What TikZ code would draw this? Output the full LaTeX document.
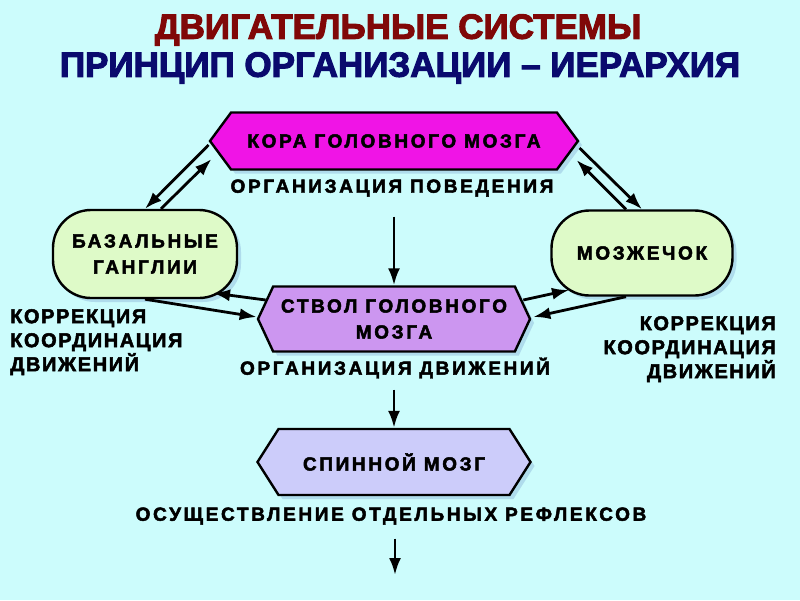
\documentclass[tikz,border=0pt]{standalone}
\usepackage{fontspec}
\setmainfont{Liberation Sans}
\newfontfamily\titlefont{Liberation Sans Bold}[FakeBold=3]
\newfontfamily\boxfont{Liberation Sans Bold}[FakeBold=2.5, LetterSpace=14]
\newfontfamily\sidefont{Liberation Sans Bold}[FakeBold=2.5, LetterSpace=8]
\usetikzlibrary{arrows.meta,positioning,shapes.symbols,shadows}

\definecolor{bgcyan}{RGB}{204,252,252}
\definecolor{titlered}{RGB}{128,8,8}
\definecolor{titleblue}{RGB}{10,10,110}
\definecolor{cortexfill}{RGB}{240,20,230}
\definecolor{greenfill}{RGB}{222,250,200}
\definecolor{stemfill}{RGB}{204,150,240}
\definecolor{spinefill}{RGB}{204,204,250}
\definecolor{shadowblue}{RGB}{175,220,236}

\begin{document}
\begin{tikzpicture}[
	x=1pt, y=-1pt,
	softshadow/.style={drop shadow={fill=shadowblue, shadow xshift=4pt, shadow yshift=-4pt, opacity=1}},
	hexbox/.style={signal, signal to=west and east, draw, line width=2.4pt, align=center, inner sep=0pt, softshadow, font=\boxfont\fontsize{19}{26}\selectfont},
	pill/.style={rectangle, rounded corners=38pt, draw, line width=2.4pt, fill=greenfill, align=center, inner sep=0pt, softshadow, font=\boxfont\fontsize{19}{26}\selectfont},
	caption/.style={inner sep=0pt, font=\boxfont\fontsize{19}{20}\selectfont},
	sidetext/.style={inner sep=0pt, font=\sidefont\fontsize{20}{24}\selectfont},
	line/.style={-{Latex[length=17pt,width=12pt]}, line width=2.8pt}
]
\fill[bgcyan] (0,0) rectangle (800,600);
\useasboundingbox (0,0) rectangle (800,600);

% title
\node[font=\titlefont\fontsize{35}{40}\selectfont, text=titlered] (title1) at (398,30) {ДВИГАТЕЛЬНЫЕ СИСТЕМЫ};
\node[font=\titlefont\fontsize{35}{40}\selectfont, text=titleblue] (title2) at (400,68) {ПРИНЦИП ОРГАНИЗАЦИИ – ИЕРАРХИЯ};

% levels
\node[hexbox, fill=cortexfill, minimum width=368pt, minimum height=57pt, signal pointer angle=107] (cortex) at (394,141) {КОРА ГОЛОВНОГО МОЗГА};
\node[caption] (behav) at (392,188) {ОРГАНИЗАЦИЯ ПОВЕДЕНИЯ};
\node[hexbox, fill=stemfill, minimum width=272pt, minimum height=65pt, signal pointer angle=130] (stem) at (394,319) {СТВОЛ ГОЛОВНОГО\\МОЗГА};
\node[caption] (moves) at (395,368) {ОРГАНИЗАЦИЯ ДВИЖЕНИЙ};
\node[hexbox, fill=spinefill, minimum width=273pt, minimum height=66pt, signal pointer angle=115] (spine) at (394,462) {СПИННОЙ МОЗГ};
\node[caption] (reflex) at (391,516) {ОСУЩЕСТВЛЕНИЕ ОТДЕЛЬНЫХ РЕФЛЕКСОВ};
\coordinate (out) at (395,575);

% side loops
\node[pill, minimum width=184pt, minimum height=88pt] (ganglia) at (145,254) {БАЗАЛЬНЫЕ\\ГАНГЛИИ};
\node[pill, minimum width=181pt, minimum height=85pt] (cerebellum) at (642,253) {МОЗЖЕЧОК};
\node[sidetext, align=left, anchor=north west] (corrleft) at (10,309) {КОРРЕКЦИЯ\\КООРДИНАЦИЯ\\ДВИЖЕНИЙ};
\node[sidetext, align=right, anchor=north east] (corrright) at (776,316) {КОРРЕКЦИЯ\\КООРДИНАЦИЯ\\ДВИЖЕНИЙ};

% downward flow
\draw[line, shorten <=20pt] (behav.south -| stem.north) -- (stem.north);
\draw[line, shorten <=11pt] (moves.south -| spine.north) -- (spine.north);
\draw[line, shorten <=14pt] (reflex.south -| out) -- (out);

% cortex <-> loops
\draw[line] ([yshift=-4pt]cortex.west) -- (ganglia.north);
\draw[line] ([xshift=16pt]ganglia.north) -- ([xshift=3pt,yshift=-18pt]cortex.west);
\draw[line] ([yshift=-7pt]cortex.east) -- (cerebellum.north);
\draw[line] ([xshift=-16pt]cerebellum.north) -- ([xshift=-3pt,yshift=-19pt]cortex.east);

% brainstem <-> loops
\draw[line] ([xshift=9pt,yshift=19pt]stem.west) -- ([xshift=68pt,yshift=-39pt]ganglia.center);
\draw[line] (ganglia.south) -- ([yshift=2pt]stem.west);
\draw[line] ([xshift=-8pt,yshift=19pt]stem.east) -- ([xshift=-73pt,yshift=-37pt]cerebellum.center);
\draw[line] ([xshift=-16pt]cerebellum.south) -- ([xshift=2pt,yshift=2pt]stem.east);
\end{tikzpicture}
\end{document}
